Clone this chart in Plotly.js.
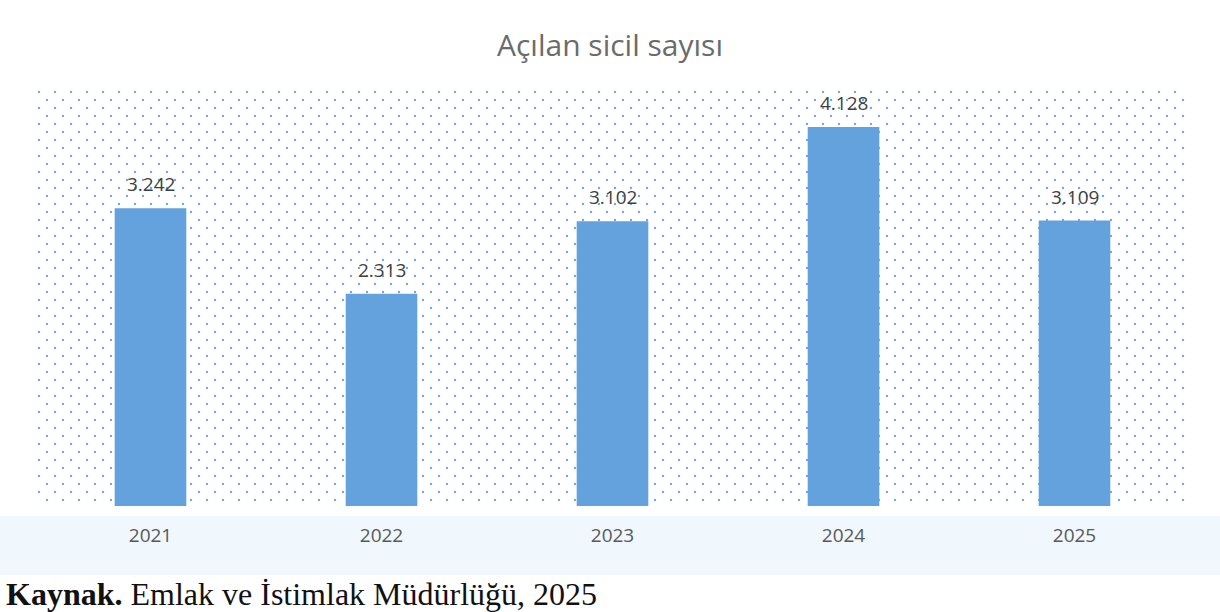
<!DOCTYPE html>
<html>
<head>
<meta charset="utf-8">
<script src="https://cdn.plot.ly/plotly-3.0.1.min.js"></script>
<style>html,body{margin:0;padding:0;background:#fff;}#chart{width:1220px;height:612px;}</style>
</head>
<body>
<div id="chart"></div>
<script>
const years = ['2021', '2022', '2023', '2024', '2025'];
const values = [3242, 2313, 3102, 4128, 3109];
const labels = ['3.242', '2.313', '3.102', '4.128', '3.109'];

const W = 1220, H = 612;
const margin = {l: 35, r: 30, t: 88, b: 106};
const pw = W - margin.l - margin.r, ph = H - margin.t - margin.b;

const svg = `<svg xmlns="http://www.w3.org/2000/svg" width="${pw}" height="${ph}" viewBox="0 0 ${pw} ${ph}" preserveAspectRatio="none"><defs><pattern id="p" width="16" height="16" patternUnits="userSpaceOnUse"><circle cx="4" cy="4" r="1.2" fill="#6fa8dc"/><circle cx="12" cy="12" r="1.2" fill="#6fa8dc"/></pattern></defs><rect width="100%" height="100%" fill="url(#p)"/></svg>`;
const uri = 'data:image/svg+xml;base64,' + btoa(svg);

const trace = {
  type: 'bar',
  x: years,
  y: values,
  marker: {color: '#64a2dd'},
  hoverinfo: 'skip'
};

const valueLabels = years.map((yr, i) => ({
  x: i, y: values[i], xref: 'x', yref: 'y', text: labels[i], showarrow: false,
  yanchor: 'bottom', yshift: 9,
  font: {family: 'Open Sans, sans-serif', size: 19, color: '#404040'}
}));

const layout = {
  width: W, height: H,
  margin: margin,
  paper_bgcolor: '#ffffff',
  plot_bgcolor: 'rgba(0,0,0,0)',
  bargap: 0.69,
  showlegend: false,
  title: {text: 'Açılan sicil sayısı', font: {family: 'Open Sans, sans-serif', size: 30, color: '#6b6b6b'}, x: 0.5, xanchor: 'center', y: 0.925, yanchor: 'middle'},
  xaxis: {type: 'category', categoryorder: 'array', categoryarray: years, range: [-0.5, years.length - 0.5],
          showgrid: false, zeroline: false, showline: false, ticks: '', ticklabelstandoff: 16,
          tickfont: {family: 'Open Sans, sans-serif', size: 19, color: '#595959'}},
  yaxis: {range: [0, 4553], visible: false, showgrid: false, zeroline: false},
  images: [{source: uri, xref: 'paper', yref: 'paper', x: 0, y: 1, sizex: 1, sizey: 1, xanchor: 'left', yanchor: 'top', sizing: 'stretch', layer: 'below'}],
  shapes: [{type: 'rect', xref: 'paper', yref: 'paper', x0: -0.05, x1: 1.05, y0: -0.024, y1: -0.165, fillcolor: '#f0f7fd', line: {width: 0}, layer: 'below'}],
  annotations: valueLabels.concat([{xref: 'paper', yref: 'paper', x: -0.027, y: -0.211, xanchor: 'left', yanchor: 'middle', showarrow: false,
    text: '<b>Kaynak.</b> Emlak ve İstimlak Müdürlüğü, 2025',
    font: {family: 'Liberation Serif, serif', size: 32, color: '#111111'}}])
};

Plotly.newPlot('chart', [trace], layout, {displayModeBar: false, staticPlot: true});
</script>
</body>
</html>
